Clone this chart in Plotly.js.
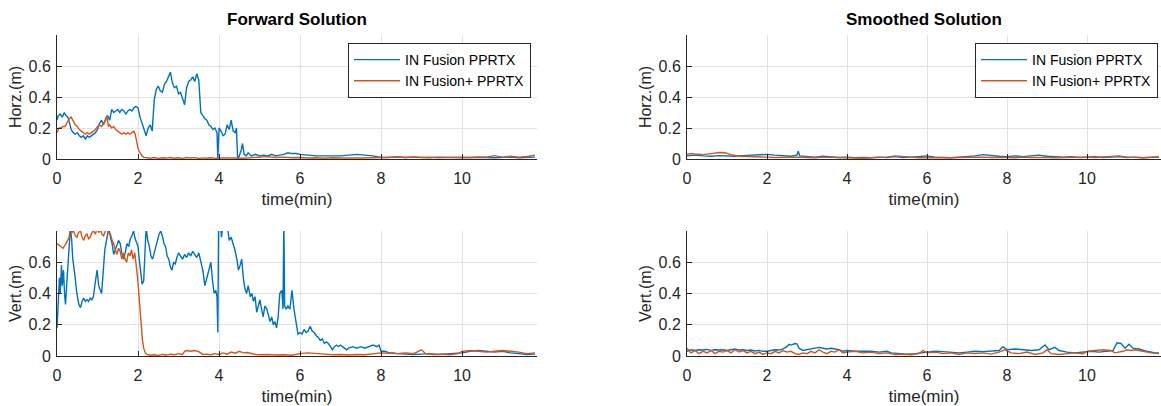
<!DOCTYPE html>
<html>
<head>
<meta charset="utf-8">
<script src="https://cdn.plot.ly/plotly-3.0.1.min.js"></script>
<style>html,body{margin:0;padding:0;background:#fff;}#chart{width:1161px;height:406px;}</style>
</head>
<body>
<div id="chart"></div>
<script>
// ---------- Forward solution, horizontal error ----------
var fwdHorzBlueT = [0,0.03,0.08,0.13,0.18,0.22,0.27,0.31,0.35,0.4,0.45,0.5,0.55,0.6,0.65,0.7,0.75,0.8,0.85,0.9,0.95,1.0,1.05,1.1,1.15,1.2,1.25,1.3,1.35,1.4,1.45,1.5,1.55,1.6,1.65,1.7,1.75,1.8,1.85,1.9,1.95,2.0,2.05,2.1,2.15,2.2,2.25,2.3,2.35,2.4,2.45,2.5,2.55,2.6,2.65,2.7,2.75,2.8,2.85,2.9,2.95,3.0,3.05,3.1,3.15,3.2,3.25,3.3,3.35,3.4,3.45,3.5,3.55,3.6,3.65,3.7,3.75,3.8,3.85,3.9,3.95,3.97,4.0,4.05,4.1,4.15,4.2,4.25,4.3,4.35,4.4,4.43,4.46,4.5,4.55,4.58,4.62,4.67,4.72,4.8,4.9,5.0,5.1,5.2,5.3,5.4,5.5,5.6,5.7,5.8,5.9,6.0,6.2,6.4,6.6,6.8,7.0,7.2,7.4,7.6,7.8,8.0,8.2,8.4,8.6,8.8,9.0,9.2,9.4,9.6,9.8,10.0,10.2,10.4,10.6,10.8,11.0,11.2,11.4,11.6,11.8];
var fwdHorzBlue = [0.25,0.28,0.29,0.27,0.30,0.28,0.27,0.22,0.19,0.17,0.16,0.17,0.15,0.14,0.15,0.13,0.15,0.14,0.15,0.16,0.17,0.19,0.23,0.25,0.22,0.26,0.28,0.25,0.32,0.30,0.31,0.32,0.30,0.32,0.31,0.29,0.31,0.32,0.31,0.33,0.34,0.33,0.27,0.23,0.19,0.15,0.20,0.22,0.18,0.38,0.45,0.47,0.44,0.43,0.48,0.50,0.53,0.56,0.49,0.46,0.47,0.42,0.43,0.39,0.35,0.46,0.50,0.51,0.53,0.50,0.55,0.51,0.30,0.28,0.26,0.25,0.22,0.21,0.19,0.20,0.17,0.0,0.20,0.18,0.15,0.16,0.22,0.19,0.25,0.18,0.17,0.20,0.0,0.02,0.06,0.10,0.03,0.02,0.04,0.02,0.03,0.02,0.025,0.02,0.03,0.02,0.025,0.03,0.04,0.035,0.035,0.03,0.025,0.02,0.02,0.02,0.02,0.025,0.03,0.025,0.02,0.01,0.01,0.015,0.01,0.012,0.01,0.008,0.012,0.01,0.01,0.008,0.01,0.012,0.01,0.008,0.01,0.012,0.008,0.01,0.012];

var fwdHorzOrangeT = [0,0.05,0.1,0.15,0.2,0.25,0.3,0.35,0.4,0.45,0.5,0.55,0.6,0.65,0.7,0.75,0.8,0.85,0.9,0.95,1.0,1.05,1.1,1.15,1.2,1.23,1.27,1.3,1.35,1.4,1.45,1.5,1.55,1.6,1.65,1.7,1.75,1.8,1.85,1.9,1.93,1.97,2.0,2.03,2.07,2.1,2.15,2.2,2.3,2.4,2.5,2.6,2.7,2.8,2.9,3.0,3.1,3.2,3.3,3.4,3.5,3.6,3.7,3.8,3.9,4.0,4.2,4.4,4.6,4.8,5.0,5.2,5.4,5.6,5.8,6.0,6.2,6.4,6.6,6.8,7.0,7.2,7.4,7.6,7.8,8.0,8.2,8.4,8.6,8.8,9.0,9.2,9.4,9.6,9.8,10.0,10.2,10.4,10.6,10.8,11.0,11.2,11.4,11.6,11.8];
var fwdHorzOrange = [0.17,0.20,0.20,0.21,0.21,0.24,0.26,0.27,0.24,0.22,0.21,0.19,0.18,0.17,0.16,0.17,0.16,0.17,0.18,0.19,0.21,0.22,0.21,0.23,0.25,0.28,0.21,0.22,0.20,0.21,0.19,0.18,0.17,0.16,0.17,0.16,0.17,0.16,0.17,0.18,0.16,0.10,0.07,0.05,0.03,0.02,0.01,0.008,0.005,0.01,0.004,0.008,0.006,0.01,0.005,0.008,0.004,0.01,0.006,0.009,0.004,0.007,0.005,0.008,0.004,0.006,0.004,0.006,0.005,0.008,0.012,0.015,0.01,0.012,0.008,0.01,0.006,0.008,0.005,0.008,0.006,0.005,0.008,0.006,0.008,0.01,0.008,0.012,0.01,0.014,0.01,0.012,0.008,0.01,0.008,0.012,0.01,0.014,0.012,0.022,0.012,0.018,0.012,0.016,0.025];

// ---------- Forward solution, vertical error ----------
var fwdVertBlueT = [0,0.03,0.06,0.08,0.11,0.13,0.16,0.19,0.21,0.25,0.29,0.33,0.36,0.39,0.44,0.49,0.54,0.58,0.62,0.66,0.7,0.74,0.78,0.82,0.86,0.9,0.95,0.99,1.03,1.07,1.1,1.13,1.18,1.23,1.28,1.32,1.36,1.4,1.44,1.48,1.52,1.56,1.6,1.65,1.69,1.73,1.77,1.81,1.85,1.89,1.93,1.97,2.0,2.03,2.06,2.1,2.14,2.17,2.2,2.24,2.28,2.32,2.36,2.4,2.44,2.48,2.52,2.56,2.6,2.64,2.68,2.72,2.76,2.8,2.84,2.88,2.92,2.96,3.0,3.05,3.1,3.15,3.2,3.25,3.3,3.35,3.4,3.45,3.5,3.55,3.6,3.65,3.7,3.75,3.8,3.84,3.88,3.92,3.95,3.97,3.99,4.03,4.06,4.1,4.15,4.2,4.25,4.3,4.35,4.39,4.44,4.48,4.52,4.56,4.6,4.64,4.68,4.72,4.77,4.81,4.85,4.89,4.93,4.97,5.01,5.05,5.09,5.13,5.18,5.22,5.26,5.3,5.34,5.38,5.42,5.46,5.5,5.55,5.58,5.6,5.62,5.66,5.7,5.75,5.8,5.85,5.9,5.95,6.0,6.05,6.1,6.15,6.2,6.25,6.3,6.35,6.4,6.45,6.5,6.55,6.6,6.65,6.7,6.75,6.8,6.85,6.9,6.95,7.0,7.05,7.1,7.15,7.2,7.3,7.4,7.5,7.6,7.7,7.8,7.9,7.95,8.0,8.1,8.2,8.3,8.4,8.6,8.8,9.0,9.2,9.4,9.6,9.8,10.0,10.2,10.4,10.6,10.8,11.0,11.2,11.4,11.6,11.8];
var fwdVertBlue = [0.18,0.35,0.50,0.40,0.58,0.45,0.55,0.38,0.33,0.50,0.65,0.82,0.75,0.62,0.52,0.40,0.33,0.31,0.35,0.37,0.35,0.36,0.35,0.37,0.36,0.38,0.48,0.55,0.45,0.42,0.40,0.50,0.68,0.75,0.82,0.76,0.72,0.65,0.68,0.70,0.74,0.72,0.66,0.62,0.68,0.72,0.70,0.75,0.77,0.80,0.75,0.72,0.70,0.62,0.55,0.46,0.48,0.70,0.82,0.74,0.70,0.64,0.62,0.66,0.70,0.75,0.78,0.80,0.77,0.72,0.70,0.64,0.62,0.57,0.55,0.60,0.59,0.63,0.66,0.64,0.62,0.65,0.63,0.66,0.64,0.67,0.65,0.63,0.66,0.61,0.55,0.45,0.50,0.56,0.60,0.48,0.40,0.42,0.38,0.15,0.85,0.88,0.76,0.85,0.90,0.85,0.74,0.76,0.72,0.68,0.62,0.55,0.58,0.62,0.50,0.43,0.40,0.45,0.38,0.40,0.35,0.38,0.28,0.33,0.36,0.30,0.25,0.32,0.30,0.26,0.22,0.25,0.20,0.22,0.18,0.25,0.40,0.42,0.30,0.88,0.32,0.30,0.32,0.30,0.42,0.30,0.22,0.14,0.15,0.14,0.17,0.15,0.16,0.19,0.16,0.15,0.13,0.12,0.10,0.11,0.08,0.09,0.08,0.06,0.04,0.06,0.07,0.06,0.07,0.06,0.05,0.04,0.05,0.06,0.05,0.06,0.05,0.06,0.07,0.06,0.07,0.03,0.03,0.02,0.02,0.015,0.012,0.01,0.012,0.015,0.01,0.012,0.015,0.02,0.03,0.035,0.03,0.025,0.03,0.02,0.015,0.01,0.012];

var fwdVertOrangeT = [0,0.05,0.1,0.15,0.2,0.25,0.3,0.33,0.37,0.41,0.45,0.49,0.53,0.58,0.62,0.66,0.7,0.74,0.78,0.82,0.86,0.9,0.95,0.99,1.03,1.07,1.11,1.15,1.19,1.23,1.27,1.32,1.36,1.4,1.44,1.48,1.52,1.56,1.6,1.64,1.68,1.72,1.76,1.8,1.84,1.88,1.92,1.96,1.99,2.02,2.05,2.08,2.11,2.14,2.18,2.22,2.3,2.4,2.5,2.6,2.7,2.8,2.9,3.0,3.1,3.15,3.2,3.3,3.4,3.5,3.6,3.7,3.8,3.9,4.0,4.1,4.2,4.3,4.4,4.5,4.6,4.7,4.8,4.9,5.0,5.2,5.4,5.6,5.8,6.0,6.2,6.4,6.6,6.8,7.0,7.2,7.4,7.6,7.8,8.0,8.2,8.4,8.6,8.8,9.0,9.1,9.3,9.5,9.7,9.9,10.0,10.2,10.4,10.6,10.8,11.0,11.2,11.4,11.6,11.8];
var fwdVertOrange = [0.72,0.71,0.70,0.69,0.71,0.74,0.76,0.82,0.79,0.80,0.77,0.76,0.79,0.80,0.76,0.74,0.77,0.78,0.75,0.76,0.79,0.80,0.78,0.82,0.79,0.81,0.78,0.77,0.80,0.82,0.79,0.78,0.74,0.72,0.68,0.65,0.69,0.67,0.62,0.66,0.62,0.60,0.66,0.64,0.68,0.62,0.66,0.58,0.50,0.40,0.28,0.18,0.10,0.05,0.02,0.01,0.005,0.008,0.004,0.01,0.006,0.012,0.008,0.015,0.01,0.03,0.035,0.03,0.035,0.028,0.01,0.012,0.008,0.015,0.01,0.02,0.012,0.025,0.018,0.03,0.02,0.022,0.015,0.01,0.008,0.01,0.006,0.008,0.005,0.015,0.02,0.018,0.012,0.008,0.01,0.006,0.01,0.008,0.012,0.02,0.018,0.015,0.02,0.015,0.04,0.015,0.01,0.012,0.008,0.015,0.03,0.035,0.03,0.025,0.03,0.035,0.03,0.025,0.015,0.02];

// ---------- Smoothed solution, horizontal error ----------
var smHorzBlueT = [0,0.2,0.4,0.6,0.8,1.0,1.2,1.4,1.6,1.8,2.0,2.2,2.4,2.6,2.75,2.78,2.82,3.0,3.2,3.4,3.6,3.8,4.0,4.2,4.4,4.6,4.8,5.0,5.2,5.4,5.6,5.8,6.0,6.2,6.4,6.6,6.8,7.0,7.2,7.4,7.6,7.8,8.0,8.2,8.4,8.6,8.8,9.0,9.2,9.4,9.6,9.8,10.0,10.2,10.4,10.6,10.8,11.0,11.2,11.4,11.6,11.8];
var smHorzBlue = [0.02,0.025,0.02,0.018,0.022,0.02,0.018,0.022,0.025,0.028,0.03,0.025,0.02,0.018,0.025,0.05,0.02,0.015,0.012,0.018,0.012,0.01,0.012,0.008,0.01,0.008,0.012,0.01,0.015,0.01,0.012,0.015,0.02,0.012,0.01,0.008,0.012,0.015,0.02,0.028,0.022,0.018,0.015,0.02,0.015,0.02,0.025,0.018,0.015,0.012,0.015,0.01,0.012,0.015,0.01,0.012,0.015,0.01,0.012,0.008,0.01,0.012];

var smHorzOrangeT = [0,0.1,0.2,0.4,0.6,0.8,0.95,1.1,1.3,1.5,1.7,2.0,2.2,2.4,2.6,2.8,3.0,3.2,3.4,3.6,3.8,4.0,4.2,4.4,4.6,4.8,5.0,5.2,5.4,5.6,5.8,6.0,6.2,6.4,6.6,6.8,7.0,7.2,7.4,7.6,7.8,8.0,8.2,8.4,8.6,8.8,9.0,9.2,9.4,9.6,9.8,10.0,10.2,10.4,10.6,10.8,11.0,11.2,11.4,11.6,11.8];
var smHorzOrange = [0.03,0.035,0.032,0.028,0.035,0.042,0.04,0.028,0.018,0.015,0.012,0.012,0.01,0.012,0.01,0.012,0.01,0.008,0.012,0.01,0.008,0.006,0.008,0.005,0.008,0.01,0.012,0.02,0.015,0.01,0.008,0.01,0.008,0.006,0.008,0.01,0.012,0.01,0.012,0.01,0.012,0.01,0.008,0.012,0.01,0.012,0.01,0.008,0.01,0.012,0.01,0.012,0.01,0.012,0.015,0.02,0.012,0.01,0.008,0.012,0.015];

// ---------- Smoothed solution, vertical error ----------
var smVertBlueT = [0,0.1,0.2,0.3,0.4,0.5,0.6,0.7,0.8,0.9,1.0,1.1,1.2,1.3,1.4,1.5,1.6,1.7,1.8,1.9,2.0,2.1,2.2,2.3,2.4,2.5,2.55,2.6,2.7,2.75,2.8,2.9,3.0,3.1,3.2,3.3,3.4,3.5,3.6,3.7,3.8,3.9,4.0,4.2,4.4,4.6,4.8,5.0,5.1,5.3,5.5,5.7,5.9,6.0,6.2,6.4,6.6,6.8,7.0,7.2,7.4,7.6,7.8,7.9,8.0,8.2,8.4,8.6,8.8,8.95,9.05,9.2,9.3,9.5,9.7,9.9,10.1,10.3,10.5,10.65,10.75,10.85,10.95,11.05,11.15,11.3,11.5,11.7,11.8];
var smVertBlue = [0.03,0.04,0.035,0.04,0.038,0.042,0.036,0.04,0.038,0.04,0.035,0.04,0.045,0.038,0.04,0.035,0.038,0.032,0.036,0.03,0.03,0.035,0.04,0.038,0.045,0.06,0.075,0.07,0.08,0.078,0.05,0.035,0.04,0.045,0.05,0.055,0.05,0.045,0.05,0.045,0.04,0.03,0.035,0.03,0.032,0.03,0.025,0.03,0.02,0.015,0.012,0.015,0.02,0.025,0.03,0.028,0.025,0.02,0.025,0.03,0.028,0.032,0.035,0.06,0.04,0.045,0.04,0.035,0.04,0.07,0.04,0.055,0.035,0.025,0.02,0.025,0.03,0.025,0.03,0.035,0.085,0.08,0.05,0.075,0.05,0.045,0.03,0.02,0.02];

var smVertOrangeT = [0,0.1,0.2,0.3,0.4,0.5,0.6,0.7,0.8,0.9,1.0,1.1,1.2,1.3,1.4,1.5,1.6,1.7,1.8,1.9,2.0,2.1,2.2,2.3,2.4,2.5,2.6,2.7,2.8,2.9,3.0,3.1,3.2,3.3,3.4,3.5,3.6,3.7,3.8,3.9,4.0,4.2,4.4,4.6,4.8,5.0,5.2,5.4,5.6,5.8,5.9,6.0,6.2,6.4,6.6,6.8,7.0,7.2,7.4,7.6,7.8,7.95,8.1,8.3,8.5,8.7,8.9,9.0,9.1,9.3,9.5,9.7,9.9,10.0,10.2,10.4,10.6,10.7,10.9,11.0,11.1,11.2,11.4,11.6,11.8];
var smVertOrange = [0.05,0.02,0.035,0.015,0.03,0.02,0.035,0.015,0.03,0.025,0.035,0.02,0.04,0.025,0.035,0.02,0.03,0.015,0.025,0.01,0.02,0.015,0.03,0.02,0.035,0.025,0.03,0.015,0.01,0.02,0.015,0.03,0.02,0.04,0.025,0.015,0.03,0.025,0.04,0.02,0.025,0.03,0.02,0.025,0.015,0.02,0.01,0.012,0.008,0.015,0.035,0.02,0.025,0.015,0.02,0.01,0.02,0.015,0.02,0.012,0.025,0.04,0.02,0.015,0.025,0.01,0.02,0.04,0.015,0.01,0.015,0.02,0.015,0.03,0.035,0.04,0.035,0.02,0.03,0.04,0.035,0.04,0.03,0.02,0.015];

var seriesNames = ['IN Fusion PPRTX', 'IN Fusion+ PPRTX'];
var panelTitles = ['Forward Solution', 'Smoothed Solution'];
var yLabels = ['Horz.(m)', 'Vert.(m)'];
var xLabel = 'time(min)';
var yTicks = [0, 0.2, 0.4, 0.6];
var xTicks = [0, 2, 4, 6, 8, 10];

var BLUE = '#0072BD', ORANGE = '#D95319';
var FONT = 'Liberation Sans, Arial, sans-serif';
var AX = '#262626';

function tr(x, y, name, color, xa, ya, legendName, show) {
  return {x: x, y: y, type: 'scatter', mode: 'lines', name: name,
    line: {color: color, width: 1.4}, xaxis: xa, yaxis: ya,
    showlegend: show, legend: legendName, hoverinfo: 'skip'};
}

var data = [
  tr(fwdHorzBlueT, fwdHorzBlue, seriesNames[0], BLUE, 'x', 'y', 'legend', true),
  tr(fwdHorzOrangeT, fwdHorzOrange, seriesNames[1], ORANGE, 'x', 'y', 'legend', true),
  tr(smHorzBlueT, smHorzBlue, seriesNames[0], BLUE, 'x2', 'y2', 'legend2', true),
  tr(smHorzOrangeT, smHorzOrange, seriesNames[1], ORANGE, 'x2', 'y2', 'legend2', true),
  tr(fwdVertBlueT, fwdVertBlue, seriesNames[0], BLUE, 'x3', 'y3', 'legend', false),
  tr(fwdVertOrangeT, fwdVertOrange, seriesNames[1], ORANGE, 'x3', 'y3', 'legend', false),
  tr(smVertBlueT, smVertBlue, seriesNames[0], BLUE, 'x4', 'y4', 'legend', false),
  tr(smVertOrangeT, smVertOrange, seriesNames[1], ORANGE, 'x4', 'y4', 'legend', false)
];

var W = 1161, H = 406;
function xd(a, b) { return [a / W, b / W]; }
function yd(top, bottom) { return [1 - bottom / H, 1 - top / H]; }

function xAxis(dom, anchor) {
  return {domain: dom, anchor: anchor, range: [0, 11.85], tickvals: xTicks,
    ticks: 'inside', ticklen: 5, tickcolor: AX, showline: true, linecolor: AX, linewidth: 1,
    showgrid: true, gridcolor: '#e2e2e2', gridwidth: 1, zeroline: false,
    tickfont: {family: FONT, size: 16, color: AX}, ticklabelstandoff: 5,
    title: {text: xLabel, font: {family: FONT, size: 17, color: AX}, standoff: 6},
    automargin: false, fixedrange: true};
}
function yAxis(dom, anchor, label) {
  return {domain: dom, anchor: anchor, range: [0, 0.8], tickvals: yTicks,
    ticks: 'inside', ticklen: 5, tickcolor: AX, showline: true, linecolor: AX, linewidth: 1,
    showgrid: true, gridcolor: '#e2e2e2', gridwidth: 1, zeroline: false,
    tickfont: {family: FONT, size: 16, color: AX}, ticklabelstandoff: 2,
    title: {text: label, font: {family: FONT, size: 16, color: AX}, standoff: 2},
    automargin: false, fixedrange: true};
}

var legendStyle = {bgcolor: '#ffffff', bordercolor: AX, borderwidth: 1,
  font: {family: FONT, size: 14, color: '#000'}, xanchor: 'left', yanchor: 'top',
  tracegroupgap: 0, itemwidth: 46};

var layout = {
  width: W, height: H, margin: {l: 0, r: 0, t: 0, b: 0},
  paper_bgcolor: '#fff', plot_bgcolor: '#fff', showlegend: true,
  xaxis: xAxis(xd(57, 537), 'y'),
  yaxis: yAxis(yd(35, 159), 'x', yLabels[0]),
  xaxis2: xAxis(xd(687, 1161), 'y2'),
  yaxis2: yAxis(yd(35, 159), 'x2', yLabels[0]),
  xaxis3: xAxis(xd(57, 537), 'y3'),
  yaxis3: yAxis(yd(231, 356), 'x3', yLabels[1]),
  xaxis4: xAxis(xd(687, 1161), 'y4'),
  yaxis4: yAxis(yd(231, 356), 'x4', yLabels[1]),
  legend: Object.assign({x: 348 / W, y: 1 - 43 / H}, legendStyle),
  legend2: Object.assign({x: 975 / W, y: 1 - 43 / H}, legendStyle),
  annotations: [
    {text: '<b>' + panelTitles[0] + '</b>', x: 297 / W, y: 1 - 19 / H, xref: 'paper', yref: 'paper',
      xanchor: 'center', yanchor: 'middle', showarrow: false, font: {family: FONT, size: 17, color: '#000'}},
    {text: '<b>' + panelTitles[1] + '</b>', x: 924 / W, y: 1 - 19 / H, xref: 'paper', yref: 'paper',
      xanchor: 'center', yanchor: 'middle', showarrow: false, font: {family: FONT, size: 17, color: '#000'}}
  ]
};

Plotly.newPlot('chart', data, layout, {staticPlot: true, displayModeBar: false});
</script>
</body>
</html>
